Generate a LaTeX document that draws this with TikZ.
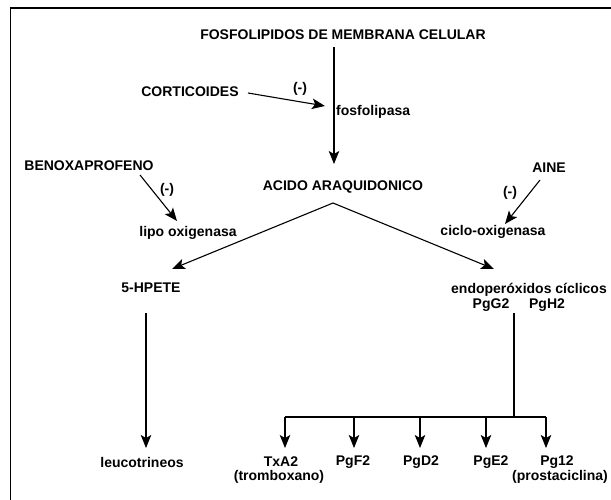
\documentclass[tikz,border=0pt]{standalone}
\usepackage{fontspec}
\setmainfont{Liberation Sans}
\usetikzlibrary{arrows.meta}
\begin{document}
\begin{tikzpicture}[x=1pt,y=-1pt,
  lbl/.style={font=\fontsize{14}{15}\selectfont\bfseries, inner sep=0pt, align=center},
  arr/.style={-{Stealth[length=13pt,width=10.5pt,inset=3pt]}, line width=1.1pt},
  ln/.style={line width=1.1pt},
  frame/.style={line width=1.6pt}]
\useasboundingbox (0,0) rectangle (611,500);
% frame (top and left only)
\coordinate (fr1) at (10.5,500);
\coordinate (fr2) at (10.5,8);
\coordinate (fr3) at (611,8);
\draw[frame] (fr1) -- (fr2) -- (fr3);

% texts
\node[lbl] (fos) at (343,35) {FOSFOLIPIDOS DE MEMBRANA CELULAR};
\node[lbl] (cort) at (190,92) {CORTICOIDES};
\node[lbl] (m1) at (300,89) {(-)};
\node[lbl, anchor=west] (fosf) at (336,112) {fosfolipasa};
\node[lbl] (benox) at (89,166) {BENOXAPROFENO};
\node[lbl] (m2) at (167,190) {(-)};
\node[lbl] (lipo) at (188,233) {lipo oxigenasa};
\node[lbl] (acido) at (343,187) {ACIDO ARAQUIDONICO};
\node[lbl] (aine) at (549,168) {AINE};
\node[lbl] (m3) at (510,193) {(-)};
\node[lbl] (ciclo) at (493,232) {ciclo-oxigenasa};
\node[lbl] (hpete) at (151,288) {5-HPETE};
\node[lbl] (endo) at (529,290) {endoperóxidos cíclicos};
\node[lbl] (pgg) at (491,305) {PgG2};
\node[lbl] (pgh) at (547,305) {PgH2};
\node[lbl] (leuco) at (142,462) {leucotrineos};
\node[lbl] (txa) at (281,462) {TxA2};
\node[lbl] (trom) at (279,477) {(tromboxano)};
\node[lbl] (pgf) at (353,462) {PgF2};
\node[lbl] (pgd) at (421,462) {PgD2};
\node[lbl] (pge) at (491,462) {PgE2};
\node[lbl] (pgi) at (557,462) {Pg12};
\node[lbl] (prost) at (560,477) {(prostaciclina)};

% connector end points
\coordinate (mainS) at (334,47);
\coordinate (mainE) at (334,164);
\coordinate (cortS) at (248,93);
\coordinate (cortE) at (325,106);
\coordinate (benS) at (140,175);
\coordinate (benE) at (177,221);
\coordinate (aineS) at (540,180);
\coordinate (aineE) at (505,224);
\coordinate (apex) at (333,203);
\coordinate (leftE) at (172,269);
\coordinate (rightE) at (494,269);
\coordinate (hpS) at (146,313);
\coordinate (hpE) at (146,448);
\coordinate (enS) at (514,313);
\coordinate (bus) at (514,417);
\coordinate (b1) at (285,417);
\coordinate (b2) at (354,417);
\coordinate (b3) at (420,417);
\coordinate (b4) at (486,417);
\coordinate (b5) at (546,417);

\draw[arr] (mainS) -- (mainE);
\draw[arr] (cortS) -- (cortE);
\draw[arr] (benS) -- (benE);
\draw[arr] (aineS) -- (aineE);
\draw[arr] (apex) -- (leftE);
\draw[arr] (apex) -- (rightE);
\draw[arr] (hpS) -- (hpE);
\draw[ln] (enS) -- (bus);
\draw[ln] (b1) -- (b5);
\draw[arr] (b1) -- (b1 |- 0,448);
\draw[arr] (b2) -- (b2 |- 0,448);
\draw[arr] (b3) -- (b3 |- 0,448);
\draw[arr] (b4) -- (b4 |- 0,448);
\draw[arr] (b5) -- (b5 |- 0,448);
\end{tikzpicture}
\end{document}
